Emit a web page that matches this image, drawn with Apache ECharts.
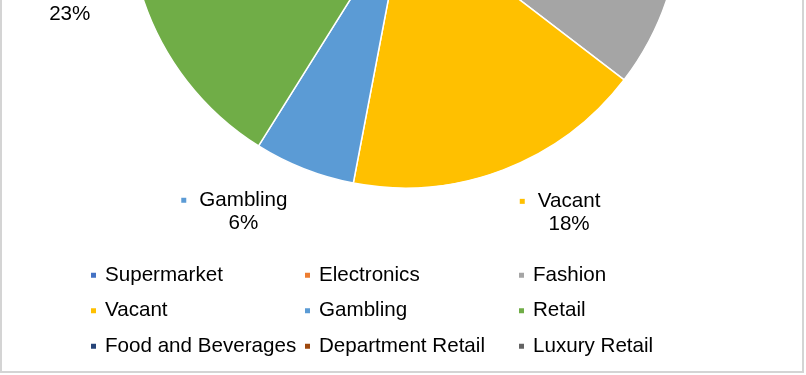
<!DOCTYPE html>
<html>
<head>
<meta charset="utf-8">
<script src="https://cdn.jsdelivr.net/npm/echarts@6/dist/echarts.min.js"></script>
<style>
html,body{margin:0;padding:0;background:#fff;}
#chart{width:806px;height:375px;}
</style>
</head>
<body>
<div id="chart"></div>
<script>
// Categories (legend order = slice order, clockwise from 12 o'clock)
var categories = ['Supermarket', 'Electronics', 'Fashion', 'Vacant', 'Gambling', 'Retail', 'Food and Beverages', 'Department Retail', 'Luxury Retail'];
// Share of space (%); the top part of the pie is cropped, so the hidden shares are estimates
var shares = [12, 9, 14.4, 17.6, 5.9, 23.1, 9, 5, 4];
var colors = ['#4472C4', '#ED7D31', '#A5A5A5', '#FFC000', '#5B9BD5', '#70AD47', '#264478', '#9E480E', '#636363'];

var FONT = '"Liberation Sans", Arial, sans-serif';
var FS = 20.6;

var rich = {
  g: { width: 13, align: 'center' },
  pad: { width: 18, align: 'center' },
  t: { fontSize: FS, fontFamily: FONT, color: '#000', lineHeight: 23, align: 'center' }
};
colors.forEach(function (c, i) {
  rich['k' + i] = { width: 5, height: 5, backgroundColor: c, align: 'center' };
});

var data = categories.map(function (name, i) {
  return { name: name, value: shares[i] };
});

var chart = echarts.init(document.getElementById('chart'), null, { renderer: 'canvas' });
chart.setOption({
  animation: false,
  backgroundColor: '#fff',
  color: colors,
  graphic: [{
    type: 'rect',
    z: -10,
    silent: true,
    shape: { x: 1, y: -10, width: 802, height: 382 },
    style: { fill: '#fff', stroke: '#d4d4d4', lineWidth: 2 }
  }],
  legend: {
    data: categories,
    orient: 'horizontal',
    left: 89,
    top: 257.5,
    width: 660,
    padding: 0,
    itemGap: 0,
    icon: 'rect',
    itemWidth: 7,
    itemHeight: 7,
    selectedMode: false,
    textStyle: {
      fontSize: FS,
      fontFamily: FONT,
      color: '#000',
      width: 198,
      lineHeight: 35.5,
      padding: [0, 0, 0, 3]
    }
  },
  series: [{
    type: 'pie',
    center: [405, -88],
    radius: 276,
    startAngle: 90,
    clockwise: true,
    avoidLabelOverlap: false,
    data: data,
    itemStyle: { borderColor: '#fff', borderWidth: 1.5 },
    label: {
      show: true,
      position: 'outside',
      distanceToLabelLine: 0,
      formatter: function (p) {
        return '{k' + p.dataIndex + '|}{g|}{t|' + p.name + '}\n{pad|}{t|' + Math.round(p.percent) + '%}';
      },
      rich: rich
    },
    labelLine: { show: false, length: 46, length2: 0 },
    emphasis: { disabled: true }
  }]
});
</script>
</body>
</html>
